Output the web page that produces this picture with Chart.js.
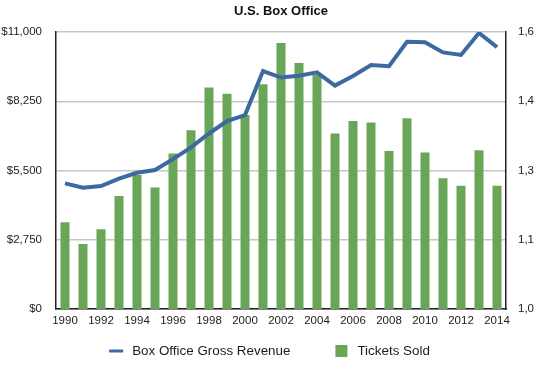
<!DOCTYPE html>
<html>
<head>
<meta charset="utf-8">
<title>U.S. Box Office</title>
<script src="https://cdn.jsdelivr.net/npm/chart.js@4"></script>
<style>
  html, body { margin: 0; padding: 0; background: #fff; }
</style>
</head>
<body>
<canvas id="boxChart" width="534" height="366"></canvas>
<script>
// Data
const years = [
  "1990", "1991", "1992", "1993", "1994", "1995", "1996", "1997", "1998",
  "1999", "2000", "2001", "2002", "2003", "2004", "2005", "2006", "2007",
  "2008", "2009", "2010", "2011", "2012", "2013", "2014",
];

// gross revenue, millions of dollars (left axis)
const grossRevenue = [
  4990, 4820, 4880, 5180, 5410, 5520, 5950, 6420, 6970,
  7460, 7700, 9450, 9190, 9260, 9400, 8870, 9250, 9690,
  9640, 10610, 10590, 10190, 10090, 10960, 10400,
];

// tickets sold, billions (right axis)
const ticketsSold = [
  1.188, 1.141, 1.173, 1.245, 1.29, 1.263, 1.337, 1.387, 1.48,
  1.466, 1.42, 1.487, 1.576, 1.533, 1.508, 1.38, 1.407, 1.404,
  1.342, 1.413, 1.339, 1.283, 1.267, 1.344, 1.267,
];

const revenueTickValues = [0, 2750, 5500, 8250, 11000];
const revenueTickLabels = ["$0", "$2,750", "$5,500", "$8,250", "$11,000"];
const ticketTickValues = [1.0, 1.15, 1.3, 1.45, 1.6];
const ticketTickLabels = ["1,0", "1,1", "1,3", "1,4", "1,6"];

// Styles
const fontFamily = '"Liberation Sans", Arial, Helvetica, sans-serif';
const blue = "#3b69a0";
const green = "#6aa657";
const textColor = "#1c1c1c";

// Legend drawn under the chart, the way the original spaces it
const bottomLegend = {
  id: "bottomLegend",
  afterDraw(chart) {
    const c = chart.ctx;
    const sets = chart.data.datasets;
    c.save();
    c.font = "13.4px " + fontFamily;
    c.textBaseline = "middle";
    c.textAlign = "left";
    const parts = sets.map((d) => {
      const isLine = d.type === "line";
      return {
        d: d,
        isLine: isLine,
        icon: isLine ? 14 : 12,
        gap: isLine ? 9 : 10,
        w: c.measureText(d.label).width,
      };
    });
    const itemGap = 45;
    let total = itemGap * (parts.length - 1);
    parts.forEach((p) => (total += p.icon + p.gap + p.w));
    let x = chart.width / 2 + 2.5 - total / 2;
    const y = 351;
    parts.forEach((p) => {
      if (p.isLine) {
        c.strokeStyle = p.d.borderColor;
        c.lineWidth = 3;
        c.beginPath();
        c.moveTo(x, y);
        c.lineTo(x + p.icon, y);
        c.stroke();
      } else {
        c.fillStyle = p.d.backgroundColor;
        c.fillRect(x, y - 6, p.icon, 12);
      }
      c.fillStyle = textColor;
      c.fillText(p.d.label, x + p.icon + p.gap, y);
      x += p.icon + p.gap + p.w + itemGap;
    });
    c.restore();
  },
};

const ctx = document.getElementById("boxChart").getContext("2d");

new Chart(ctx, {
  data: {
    labels: years,
    datasets: [
      {
        type: "line",
        label: "Box Office Gross Revenue",
        data: grossRevenue,
        yAxisID: "y",
        borderColor: blue,
        backgroundColor: blue,
        borderWidth: 4,
        pointRadius: 0,
        tension: 0,
        borderJoinStyle: "miter",
        order: 0,
      },
      {
        type: "bar",
        label: "Tickets Sold",
        data: ticketsSold,
        yAxisID: "y2",
        backgroundColor: green,
        barPercentage: 0.5,
        categoryPercentage: 1,
        order: 1,
      },
    ],
  },
  options: {
    responsive: false,
    animation: false,
    layout: { padding: { top: 0, left: 0, right: 0, bottom: 38 } },
    plugins: {
      legend: { display: false },
      tooltip: { enabled: false },
      title: {
        display: true,
        text: "U.S. Box Office",
        fullSize: false,
        color: "#111",
        font: { family: fontFamily, size: 13, weight: "bold" },
        padding: { top: 4, bottom: 12.4 },
      },
    },
    scales: {
      x: {
        grid: { display: false, drawTicks: false },
        border: { color: "#222", width: 1.5 },
        ticks: {
          autoSkip: false,
          maxRotation: 0,
          padding: 5,
          color: textColor,
          font: { family: fontFamily, size: 11.5 },
          callback: (v, i) => (i % 2 === 0 ? years[i] : ""),
        },
        afterFit: (s) => {
          s.height = 19;
        },
      },
      y: {
        position: "left",
        min: 0,
        max: 11000,
        afterBuildTicks: (s) => {
          s.ticks = revenueTickValues.map((v) => ({ value: v }));
        },
        grid: { color: "#c6c6c6", lineWidth: 1.5, drawTicks: false },
        border: { color: "#222", width: 1.5 },
        ticks: {
          padding: 14,
          color: textColor,
          font: { family: fontFamily, size: 11.5 },
          callback: (v, i) => revenueTickLabels[i],
        },
        afterFit: (s) => {
          s.width = 56;
        },
      },
      y2: {
        position: "right",
        min: 1.0,
        max: 1.6,
        afterBuildTicks: (s) => {
          s.ticks = ticketTickValues.map((v) => ({ value: v }));
        },
        grid: { display: false, drawTicks: false },
        border: { color: "#222", width: 1.5 },
        ticks: {
          padding: 12,
          color: textColor,
          font: { family: fontFamily, size: 11.5 },
          callback: (v, i) => ticketTickLabels[i],
        },
        afterFit: (s) => {
          s.width = 28;
        },
      },
    },
  },
  plugins: [bottomLegend],
});
</script>
</body>
</html>
